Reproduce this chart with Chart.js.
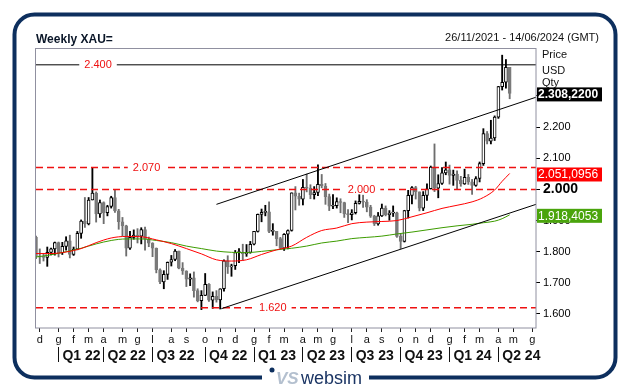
<!DOCTYPE html>
<html>
<head>
<meta charset="utf-8">
<script src="https://cdn.jsdelivr.net/npm/chart.js@4.4.1/dist/chart.umd.min.js"></script>
<style>
  body { margin: 0; background: #fff; }
  #box { width: 631px; height: 392px; }
</style>
</head>
<body>
<div id="box"><canvas id="grafico" width="631" height="392"></canvas></div>
<script>
// weekly candles, week 0 = 26/11/2021
const opens = [1846,1785,1783,1782,1798,1809,1829,1797,1817,1835,1791,1808,1859,1898,1889,1966,1988,1921,1958,1925,
  1945,1974,1931,1896,1883,1811,1846,1853,1850,1871,1840,1827,1811,1742,1703,1727,1766,1775,1802,1747,
  1738,1712,1716,1675,1643,1660,1695,1644,1657,1645,1681,1771,1751,1755,1797,1797,1793,1798,1824,1865,
  1920,1926,1928,1865,1865,1842,1811,1856,1868,1989,1978,1969,2007,2004,1983,1990,2016,2011,1977,1946,
  1948,1961,1958,1921,1919,1925,1955,1962,1959,1943,1914,1889,1915,1940,1919,1924,1925,1849,1833,1932,
  1981,2006,1992,1940,1981,2002,2072,2004,2019,2053,2063,2045,2049,2029,2018,2039,2024,2013,2035,2083,
  2179,2155,2165,2232,2330,2344,2392];
const highs = [1850,1809,1793,1815,1812,1831,1831,1830,1848,1853,1815,1865,1902,1974,1974,2070,1992,1966,1960,1949,
  1978,1998,1936,1910,1885,1865,1870,1874,1877,1879,1847,1829,1812,1745,1739,1767,1788,1807,1802,1765,
  1739,1729,1735,1681,1675,1730,1698,1671,1675,1681,1774,1787,1760,1804,1810,1824,1823,1833,1865,1921,
  1937,1949,1960,1890,1865,1846,1858,1870,1989,2009,1988,2032,2049,2015,2009,2079,2048,2019,1985,1983,
  1973,1970,1959,1935,1935,1963,1987,1982,1967,1949,1917,1926,1953,1947,1932,1947,1927,1858,1933,1997,
  2009,2010,1992,1993,2018,2075,2146,2047,2070,2088,2078,2062,2060,2042,2065,2048,2032,2041,2088,2195,
  2186,2222,2236,2331,2431,2417,2392];
const lows = [1778,1762,1770,1753,1790,1789,1783,1791,1805,1780,1788,1806,1843,1878,1886,1966,1895,1910,1890,1915,
  1940,1926,1872,1850,1786,1807,1840,1828,1825,1805,1816,1784,1732,1697,1681,1711,1754,1771,1745,1727,
  1688,1691,1654,1639,1614,1659,1640,1618,1638,1616,1673,1730,1721,1743,1765,1773,1785,1795,1822,1863,
  1896,1915,1861,1853,1819,1809,1804,1809,1866,1934,1949,1950,1992,1970,1969,1980,2005,1952,1932,1938,
  1940,1925,1910,1893,1902,1921,1953,1942,1928,1910,1884,1885,1913,1915,1901,1913,1846,1810,1831,1908,
  1953,1969,1931,1932,1965,2001,1993,1973,2016,2047,2017,2013,2001,2010,2016,2016,1984,2010,2024,2077,
  2146,2146,2157,2228,2319,2325,2291];
const closes = [1785,1783,1782,1798,1809,1829,1797,1817,1835,1791,1808,1859,1898,1889,1966,1988,1921,1958,1925,1945,
  1974,1931,1896,1883,1811,1846,1853,1850,1871,1840,1827,1811,1742,1703,1727,1766,1775,1802,1747,1738,
  1712,1716,1675,1643,1660,1695,1644,1657,1645,1681,1771,1751,1755,1797,1797,1793,1798,1824,1865,1920,
  1926,1928,1865,1865,1842,1811,1856,1868,1989,1978,1969,2007,2004,1983,1990,2016,2011,1977,1946,1948,
  1961,1958,1921,1919,1925,1955,1962,1959,1943,1914,1889,1915,1940,1919,1924,1925,1849,1833,1932,1981,
  2006,1992,1940,1981,2002,2072,2004,2019,2053,2063,2045,2049,2029,2018,2039,2024,2013,2035,2083,2179,
  2155,2165,2232,2330,2344,2392,2308.22];

// medie mobili (settimana, valore)
const maWeeks = [0,4,8,12,16,20,24,28,32,36,40,44,48,52,56,60,64,68,72,76,80,84,88,92,96,100,104,108,112,116,119,122,124,126];
const redMA = [1794,1794,1799,1810,1829,1844,1849,1848,1838,1826,1810,1793,1774,1770,1774,1791,1806,1818,1846,1868,
  1876,1890,1895,1897,1900,1912,1925,1939,1949,1960,1974,1998,2026,2051.0956];
const greenMA = [1783,1790,1800,1811,1825,1836,1841,1841,1836,1829,1818,1810,1802,1798,1797,1801,1806,1811,1818,1828,
  1834,1842,1846,1850,1857,1863,1870,1877,1883,1888,1893,1898,1906,1918.4053];

// canale (settimana, prezzo)
const channelUp = [[48, 1952], [133, 2296]];
const channelDown = [[49.3, 1617], [133, 1952]];
const levels = [2400, 2070, 2000, 1620];

const monthTicks = [1,6,10,14,18,23,27,31,36,40,45,49,53,58,62,66,71,75,79,84,88,92,97,101,105,110,114,118,123,127,132];
const monthLabels = ['d','g','f','m','a','m','g','l','a','s','o','n','d','g','f','m','a','m','g','l','a','s','o','n','d','g','f','m','a','m','g'];
const quarterTicks = [6,18,31,45,58,71,84,97,110,123];
const quarterLabels = ['Q1 22','Q2 22','Q3 22','Q4 22','Q1 23','Q2 23','Q3 23','Q4 23','Q1 24','Q2 24'];
const priceTicks = [1600,1700,1800,1900,2000,2100,2200,2300];

const F = '"Liberation Sans", Arial, sans-serif';
const NAVY = '#0d2f5e';

function formatIt(v, dec) {
    const p = v.toFixed(dec).split('.');
    const intPart = p[0].replace(/\B(?=(\d{3})+(?!\d))/g, '.');
    return dec ? intPart + ',' + p[1] : intPart;
}

const rialzo = i => closes[i] >= opens[i];
const lineData = (xs, ys) => xs.map((x, k) => ({ x: x, y: ys[k] }));

const levelSets = levels.map((v, k) => ({
    type: 'line',
    data: [{ x: 0, y: v }, { x: 133, y: v }],
    borderColor: k === 0 ? '#000' : '#ee1111',
    borderWidth: k === 0 ? 1 : 1.5,
    borderDash: k === 0 ? [] : [7, 4],
    pointRadius: 0,
    order: 3
}));

// niente padding automatico sugli assi orizzontali
function fissaAsseX(altezza) {
    return s => {
        s.height = altezza;
        s.paddingLeft = 0;
        s.paddingRight = 0;
    };
}

// cornice, titoli, etichette
const decorazioni = {
    id: 'decorazioni',
    beforeDraw(chart) {
        const c = chart.ctx;
        c.save();
        c.fillStyle = '#fff';
        c.fillRect(0, 0, chart.width, chart.height);
        c.restore();
    },
    afterDraw(chart, args, opts) {
        const c = chart.ctx;
        const a = chart.chartArea;
        const x = chart.scales.x, y = chart.scales.y;
        c.save();

        // bordo area grafico
        c.strokeStyle = '#9090a0';
        c.lineWidth = 1;
        c.strokeRect(a.left - 0.5, a.top + 0.5, a.right - a.left + 0.5, a.bottom - a.top - 0.5);

        // etichette dei livelli
        c.font = '11px ' + F;
        c.textAlign = 'center';
        c.textBaseline = 'middle';
        levels.forEach((v, k) => {
            const px = x.getPixelForValue(opts.labelAt[k]);
            const py = y.getPixelForValue(v);
            const t = formatIt(v, 0);
            const w = c.measureText(t).width + 10;
            c.fillStyle = '#fff';
            c.fillRect(px - w / 2, py - 5, w, 10);
            c.fillStyle = '#ee1111';
            c.fillText(t, px, py + 0.5);
        });

        // titolo e periodo
        c.textBaseline = 'alphabetic';
        c.textAlign = 'left';
        c.fillStyle = '#0a1628';
        c.font = 'bold 12px ' + F;
        c.fillText('Weekly XAU=', 36, 43);
        c.font = '11px ' + F;
        c.fillStyle = '#111';
        c.textAlign = 'right';
        c.fillText('26/11/2021 - 14/06/2024 (GMT)', 599, 41);
        c.textAlign = 'left';
        c.fillText('Price', 542, 58);
        c.fillText('USD', 542, 74);
        c.fillText('Qty', 542, 86);

        // box valori a destra
        const boxes = [
            { v: closes[closes.length - 1], bg: '#000', bold: true },
            { v: redMA[redMA.length - 1], bg: '#ff0000', bold: false },
            { v: greenMA[greenMA.length - 1], bg: '#4aa40c', bold: false }
        ];
        c.textBaseline = 'middle';
        boxes.forEach(b => {
            const py = y.getPixelForValue(b.v) + 1;
            c.fillStyle = b.bg;
            c.fillRect(a.right + 1, py - 7, 65, 14);
            c.fillStyle = '#fff';
            c.font = (b.bold ? 'bold ' : '') + '12px ' + F;
            c.fillText(formatIt(b.v, 4), a.right + 2, py + 0.5);
        });

        // cornice esterna arrotondata
        const L = 14.5, T = 14.5, R = 615.5, B = 377.5, r = 20;
        c.strokeStyle = NAVY;
        c.lineWidth = 4;
        c.beginPath();
        c.moveTo(L + r, T);
        c.lineTo(R - r, T);
        c.arcTo(R, T, R, T + r, r);
        c.lineTo(R, B - r);
        c.arcTo(R, B, R - r, B, r);
        c.lineTo(L + r, B);
        c.arcTo(L, B, L, B - r, r);
        c.lineTo(L, T + r);
        c.arcTo(L, T, L + r, T, r);
        c.stroke();

        // logo
        c.fillStyle = '#fff';
        c.fillRect(262, 371, 107, 14);
        c.fillStyle = NAVY;
        c.beginPath();
        c.arc(272, 370, 2.5, 0, Math.PI * 2);
        c.fill();
        c.fillStyle = '#b4c0cf';
        c.font = 'italic bold 17px ' + F;
        c.textBaseline = 'alphabetic';
        c.fillText('VS', 276, 384);
        c.fillStyle = '#1b3564';
        c.font = '18px ' + F;
        c.fillText('websim', 301, 384);
        c.restore();
    }
};

Chart.defaults.font.family = F;

const grafico = new Chart(document.getElementById('grafico'), {
    data: {
        datasets: [
            {
                type: 'bar',
                data: opens.map((o, i) => ({ x: i, y: [lows[i], highs[i]] })),
                backgroundColor: ctx => rialzo(ctx.dataIndex) ? '#000' : '#6e6e6e',
                barThickness: 1.2,
                grouped: false,
                order: 6
            },
            {
                type: 'bar',
                data: opens.map((o, i) => ({ x: i, y: [o, closes[i]] })),
                backgroundColor: ctx => rialzo(ctx.dataIndex) ? '#fff' : '#7a7a7a',
                borderColor: ctx => rialzo(ctx.dataIndex) ? '#000' : '#7a7a7a',
                borderWidth: 1,
                borderSkipped: false,
                barThickness: 3,
                minBarLength: 1,
                grouped: false,
                order: 5
            },
            ...levelSets,
            {
                type: 'line',
                data: lineData(maWeeks, redMA),
                borderColor: '#ff0000',
                borderWidth: 1,
                pointRadius: 0,
                cubicInterpolationMode: 'monotone',
                order: 2
            },
            {
                type: 'line',
                data: lineData(maWeeks, greenMA),
                borderColor: '#3d9c00',
                borderWidth: 1,
                pointRadius: 0,
                cubicInterpolationMode: 'monotone',
                order: 2
            },
            {
                type: 'line',
                data: channelUp.map(p => ({ x: p[0], y: p[1] })),
                borderColor: '#000',
                borderWidth: 1,
                pointRadius: 0,
                order: 1
            },
            {
                type: 'line',
                data: channelDown.map(p => ({ x: p[0], y: p[1] })),
                borderColor: '#000',
                borderWidth: 1,
                pointRadius: 0,
                order: 1
            }
        ]
    },
    options: {
        responsive: false,
        devicePixelRatio: 1,
        animation: false,
        layout: { padding: { left: 36, top: 48, right: 0, bottom: 0 } },
        plugins: {
            legend: { display: false },
            tooltip: { enabled: false },
            decorazioni: { labelAt: [16.5, 29.4, 86.6, 63] }
        },
        scales: {
            x: {
                type: 'linear', position: 'bottom', weight: 0, min: 0, max: 133,
                offset: false,
                afterBuildTicks: s => { s.ticks = monthTicks.map(v => ({ value: v })); },
                afterFit: fissaAsseX(19),
                ticks: {
                    autoSkip: false, maxRotation: 0, padding: 1, color: '#111',
                    font: { size: 11 },
                    callback: (v, i) => monthLabels[i]
                },
                grid: { drawOnChartArea: false, offset: false, tickLength: 4, color: '#222' },
                border: { display: false }
            },
            xq: {
                type: 'linear', position: 'bottom', weight: 1, min: 0, max: 133,
                offset: false,
                afterBuildTicks: s => { s.ticks = quarterTicks.map(v => ({ value: v })); },
                afterFit: fissaAsseX(45),
                ticks: {
                    autoSkip: false, maxRotation: 0, align: 'start', padding: -14, color: '#111',
                    font: { size: 14, weight: 'bold' },
                    callback: (v, i) => ' ' + quarterLabels[i]
                },
                grid: { drawOnChartArea: false, offset: false, tickLength: 15, color: '#111' },
                border: { display: false }
            },
            y: {
                position: 'right', min: 1555, max: 2454,
                afterBuildTicks: s => { s.ticks = priceTicks.map(v => ({ value: v })); },
                afterFit: s => { s.width = 95; },
                ticks: {
                    padding: 3, color: '#000',
                    font: ctx => (ctx.tick && ctx.tick.value === 2000) ? { size: 14, weight: 'bold' } : { size: 11 },
                    callback: v => formatIt(v, 0)
                },
                grid: { drawOnChartArea: false, tickLength: 4, color: '#000' },
                border: { display: false }
            }
        }
    },
    plugins: [decorazioni]
});
</script>
</body>
</html>
